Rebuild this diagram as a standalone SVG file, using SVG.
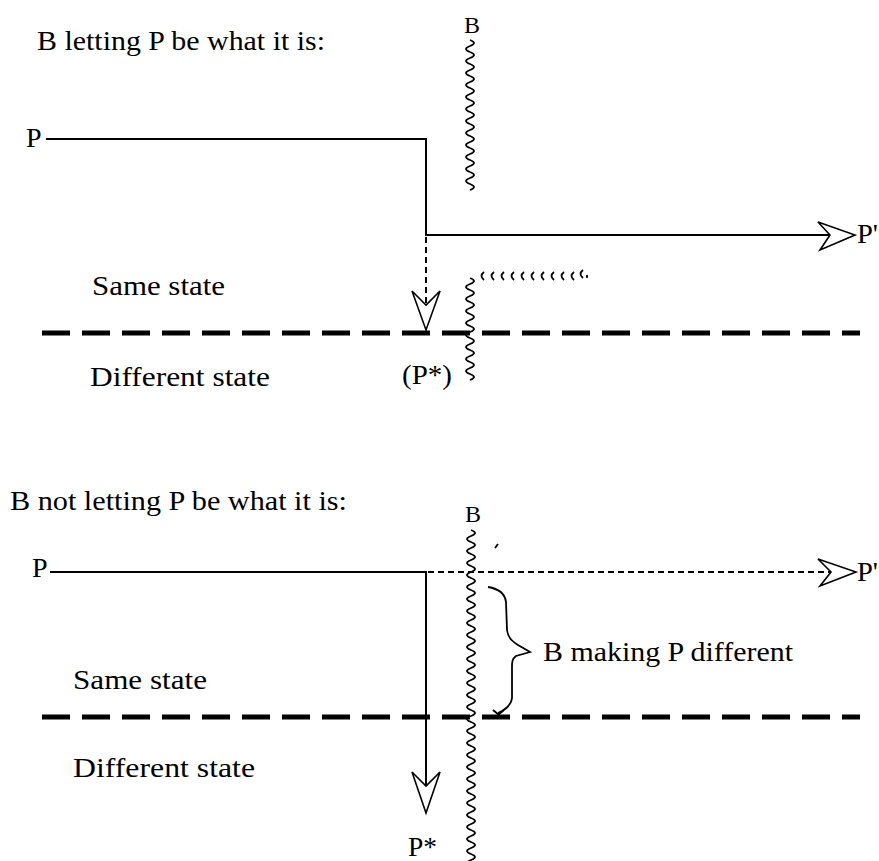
<svg xmlns="http://www.w3.org/2000/svg" width="879" height="861" viewBox="0 0 879 861">
<style>
text{font-family:"Liberation Serif","Times New Roman",serif;font-size:28px;fill:#000}
.t{font-size:27px}
.b{font-size:24px}
.solid{stroke:#000;stroke-width:2;fill:none}
.dash{stroke:#000;stroke-width:2;fill:none;stroke-dasharray:6 4}
.thick{stroke:#000;stroke-width:5;fill:none;stroke-dasharray:28 12}
.wave{stroke:#000;stroke-width:1.8;fill:none}
.head{stroke:#000;stroke-width:1.6;fill:#fff;stroke-linejoin:miter}
</style>
<rect width="879" height="861" fill="#fff"/>

<g id="boundaries">
<path class="thick" d="M42 333H860"/>
<path class="thick" d="M42 717H860"/>
</g>

<g id="connectors">
<path class="solid" d="M46 139H426V235H830"/>
<path class="dash" d="M426 237V304"/>
<polygon class="head" points="818,222 855,235 820,250 830,235"/>
<polygon class="head" points="412,291 426,330 440,291 426,305"/>
<path class="solid" d="M50 572H426V786"/>
<path class="dash" d="M428 572H831"/>
<polygon class="head" points="818,559 856,572 820,586 831,572"/>
<polygon class="head" points="412,772 426,813 440,772 426,786"/>
</g>

<g id="B-top">
<text class="b" x="464" y="33">B</text>
<path class="wave" d="M470 40q8 3 0 6t0 6t0 6t0 6t0 6t0 6t0 6t0 6t0 6t0 6t0 6t0 6t0 6t0 6t0 6t0 6t0 6t0 6t0 6t0 6t0 6t0 6t0 6t0 6t0 6"/>
<path class="wave" d="M470 278q8 3 0 6t0 6t0 6t0 6t0 6t0 6t0 6t0 6t0 6t0 6t0 6t0 6t0 6t0 6t0 6t0 6t0 6"/>
<path class="wave" d="M484 272q-5 4 0 8M494 272q-5 4 0 8M504 272q-5 4 0 8M514 272q-5 4 0 8M524 272q-5 4 0 8M534 272q-5 4 0 8M544 272q-5 4 0 8M554 272q-5 4 0 8M564 272q-5 4 0 8M574 272q-5 4 0 8M583 270q-5 4 0 8M587 275v3"/>
</g>

<g id="B-bottom">
<text class="b" x="465" y="522">B</text>
<path class="wave" d="M471 530q8 3 0 6t0 6t0 6t0 6t0 6t0 6t0 6t0 6t0 6t0 6t0 6t0 6t0 6t0 6t0 6t0 6t0 6t0 6t0 6t0 6t0 6t0 6t0 6t0 6t0 6t0 6t0 6t0 6t0 6t0 6t0 6t0 6t0 6t0 6t0 6t0 6t0 6t0 6t0 6t0 6t0 6t0 6t0 6t0 6t0 6t0 6t0 6t0 6t0 6t0 6t0 6t0 6t0 6t0 6t0 6t0 6"/>
<path class="wave" d="M495 548l3 -4"/>
</g>

<g id="brace">
<path class="wave" d="M488 587C500 589 505 594 506 602L507 630C508 638 512 641 518 645L530 652L516 656C512 659 512 662 512 668L512 698C511 706 505 710 498 713M493 710l6 5M504 710l-6 5"/>
</g>

<g id="title-top"><text class="t" x="37" y="50" textLength="288" lengthAdjust="spacingAndGlyphs">B letting P be what it is:</text></g>
<g id="P-top"><text x="26" y="147">P</text></g>
<g id="Pprime-top"><text x="857" y="243" textLength="21" lengthAdjust="spacingAndGlyphs">P'</text></g>
<g id="same-top"><text x="92" y="295" textLength="133" lengthAdjust="spacingAndGlyphs">Same state</text></g>
<g id="diff-top"><text x="90" y="386" textLength="180" lengthAdjust="spacingAndGlyphs">Different state</text></g>
<g id="Pstar-top"><text x="402" y="384" textLength="50" lengthAdjust="spacingAndGlyphs">(P*)</text></g>

<g id="title-bottom"><text class="t" x="10" y="510" textLength="337" lengthAdjust="spacingAndGlyphs">B not letting P be what it is:</text></g>
<g id="P-bottom"><text x="32" y="577">P</text></g>
<g id="Pprime-bottom"><text x="857" y="581" textLength="21" lengthAdjust="spacingAndGlyphs">P'</text></g>
<g id="making"><text x="543" y="661" textLength="250" lengthAdjust="spacingAndGlyphs">B making P different</text></g>
<g id="same-bottom"><text x="73" y="689" textLength="134" lengthAdjust="spacingAndGlyphs">Same state</text></g>
<g id="diff-bottom"><text x="73" y="777" textLength="182" lengthAdjust="spacingAndGlyphs">Different state</text></g>
<g id="Pstar-bottom"><text x="408" y="856" textLength="29" lengthAdjust="spacingAndGlyphs">P*</text></g>
</svg>
